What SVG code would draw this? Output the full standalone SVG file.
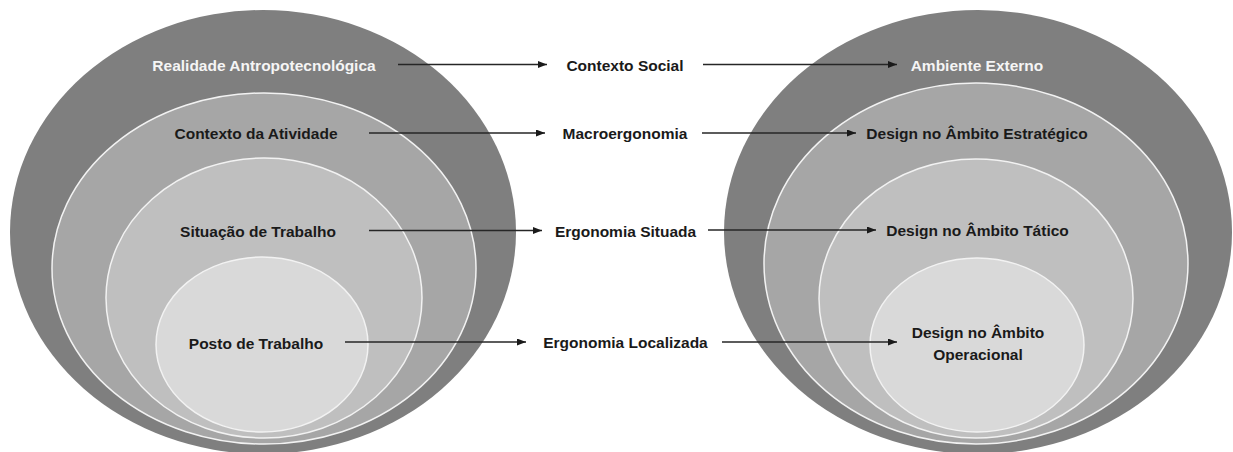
<svg xmlns="http://www.w3.org/2000/svg" width="1233" height="452" viewBox="0 0 1233 452">
<defs>
<style>
.l1{fill:#7f7f7f}
.l2{fill:#a6a6a6;stroke:#f2f2f2;stroke-width:1.5}
.l3{fill:#bfbfbf;stroke:#f2f2f2;stroke-width:1.5}
.l4{fill:#d9d9d9;stroke:#f2f2f2;stroke-width:1.5}
text{font-family:"Liberation Sans",Arial,sans-serif;font-weight:bold;font-size:15.5px;text-anchor:middle;fill:#1a1a1a}
text.w{fill:#f5f5f5}
.c line{stroke:#262626;stroke-width:1.3;marker-end:url(#ah)}
</style>
<marker id="ah" markerUnits="userSpaceOnUse" markerWidth="10" markerHeight="8" refX="9" refY="3.5" orient="auto">
<path d="M0,0 L9,3.5 L0,7 z" fill="#1a1a1a"/>
</marker>
</defs>
<rect width="1233" height="452" fill="#ffffff"/>
<g id="left">
<g id="realidade"><ellipse class="l1" cx="263" cy="232" rx="253" ry="222"/><text class="w" x="264" y="70.5">Realidade Antropotecnológica</text></g>
<g id="contexto-atividade"><ellipse class="l2" cx="264" cy="268.5" rx="212" ry="175.5"/><text x="256" y="138.5">Contexto da Atividade</text></g>
<g id="situacao"><ellipse class="l3" cx="264" cy="298" rx="158" ry="140"/><text x="258" y="236.5">Situação de Trabalho</text></g>
<g id="posto"><ellipse class="l4" cx="262" cy="344.5" rx="106" ry="87.5"/><text x="256" y="348.5">Posto de Trabalho</text></g>
</g>
<g id="middle">
<g id="contexto-social"><text x="625" y="70.5">Contexto Social</text></g>
<g id="macro"><text x="625" y="138.5">Macroergonomia</text></g>
<g id="erg-situada"><text x="625.5" y="236.5">Ergonomia Situada</text></g>
<g id="erg-localizada"><text x="625.5" y="347.5">Ergonomia Localizada</text></g>
</g>
<g id="right">
<g id="ambiente"><ellipse class="l1" cx="978" cy="232" rx="254" ry="222"/><text class="w" x="977" y="70.5">Ambiente Externo</text></g>
<g id="estrategico"><ellipse class="l2" cx="976" cy="263.5" rx="212" ry="180.5"/><text x="977" y="138.5">Design no Âmbito Estratégico</text></g>
<g id="tatico"><ellipse class="l3" cx="976" cy="298.5" rx="157" ry="139.5"/><text x="977.5" y="235.5">Design no Âmbito Tático</text></g>
<g id="operacional"><ellipse class="l4" cx="977" cy="345" rx="107" ry="87"/><text x="978" y="337.5">Design no Âmbito</text><text x="978" y="359.5">Operacional</text></g>
</g>
<g id="connectors" class="c">
<line x1="398" y1="64.5" x2="547" y2="64.5"/>
<line x1="703" y1="64.5" x2="897" y2="64.5"/>
<line x1="369" y1="133" x2="545" y2="133"/>
<line x1="702" y1="133" x2="856" y2="133"/>
<line x1="369" y1="230.5" x2="542" y2="230.5"/>
<line x1="708" y1="230" x2="876" y2="230"/>
<line x1="345" y1="342" x2="526" y2="342"/>
<line x1="722" y1="342" x2="897" y2="342"/>
</g>
</svg>
